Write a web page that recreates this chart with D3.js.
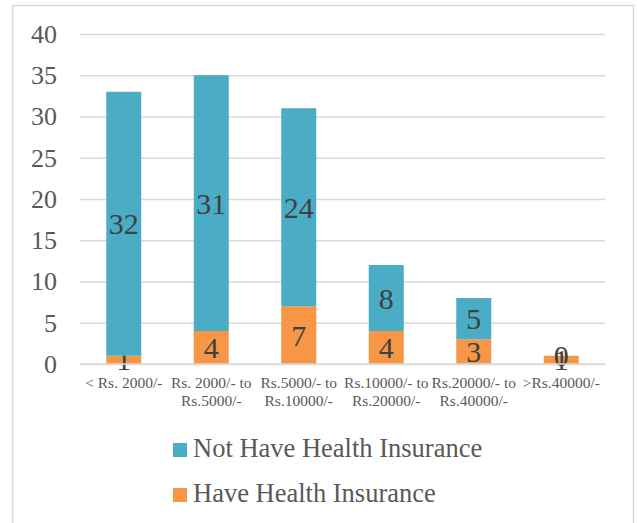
<!DOCTYPE html>
<html>
<head>
<meta charset="utf-8">
<script src="https://cdn.jsdelivr.net/npm/d3@7"></script>
<style>
  body { margin: 0; background: #fff; }
  svg { display: block; font-family: "Liberation Serif", "Times New Roman", serif; }
</style>
</head>
<body>
<svg id="chart" width="637" height="523"></svg>
<script>
const categories = [
  "< Rs. 2000/-",
  "Rs. 2000/- to Rs.5000/-",
  "Rs.5000/- to Rs.10000/-",
  "Rs.10000/- to Rs.20000/-",
  "Rs.20000/- to Rs.40000/-",
  ">Rs.40000/-"
];
const haveInsurance = [1, 4, 7, 4, 3, 1];
const notHaveInsurance = [32, 31, 24, 8, 5, 0];
const yTicks = [0, 5, 10, 15, 20, 25, 30, 35, 40];
const seriesNames = ["Have Health Insurance", "Not Have Health Insurance"];
const seriesColors = ["#F79646", "#4BACC6"];

const serif = '"Liberation Serif", "Times New Roman", serif';
const svg = d3.select('#chart');
const margin = {top: 34, left: 80, right: 32, bottom: 159};
const width = 637, height = 523;
const innerW = width - margin.left - margin.right;
const innerH = height - margin.top - margin.bottom;

// outer frame
svg.append('rect')
  .attr('x', 12.5).attr('y', 5.5)
  .attr('width', 621).attr('height', 530)
  .attr('fill', 'none')
  .attr('stroke', '#d9d9d9')
  .attr('stroke-width', 1.5);

const rows = categories.map((c, i) => ({cat: c, have: haveInsurance[i], notHave: notHaveInsurance[i]}));
const stack = d3.stack().keys(['have', 'notHave'])(rows);

const x = d3.scaleBand().domain(categories).range([0, innerW]).paddingInner(0.6).paddingOuter(0.3);
const y = d3.scaleLinear().domain([0, 40]).range([innerH, 0]);

const g = svg.append('g').attr('transform', `translate(${margin.left},${margin.top})`);

// gridlines + y labels
const yAxisG = g.append('g')
  .call(d3.axisLeft(y).tickValues(yTicks).tickSize(-innerW).tickPadding(23))
  .attr('font-family', serif);
yAxisG.select('.domain').remove();
yAxisG.selectAll('.tick line').attr('stroke', '#d9d9d9').attr('stroke-width', 1.3);
yAxisG.selectAll('.tick text')
  .attr('fill', '#595959')
  .style('font-size', '26px')
  .style('font-family', serif);

// bars
const layers = g.selectAll('g.layer').data(stack)
  .join('g')
  .attr('class', 'layer')
  .attr('fill', (d, i) => seriesColors[i]);

layers.selectAll('rect').data(d => d)
  .join('rect')
  .attr('x', d => x(d.data.cat))
  .attr('y', d => y(d[1]))
  .attr('width', x.bandwidth())
  .attr('height', d => y(d[0]) - y(d[1]));

// data labels
layers.selectAll('text').data(d => d)
  .join('text')
  .attr('x', d => x(d.data.cat) + x.bandwidth() / 2)
  .attr('y', d => y((d[0] + d[1]) / 2))
  .attr('dy', '0.35em')
  .attr('text-anchor', 'middle')
  .attr('fill', '#404040')
  .style('font-size', '30px')
  .style('font-family', serif)
  .text(d => d[1] - d[0]);

// baseline
g.append('line')
  .attr('x1', 0).attr('x2', innerW)
  .attr('y1', innerH).attr('y2', innerH)
  .attr('stroke', '#d9d9d9').attr('stroke-width', 1.3);

// x labels, wrapped after " to"
const xAxisG = g.append('g').attr('transform', `translate(0,${innerH})`);
xAxisG.selectAll('text').data(categories)
  .join('text')
  .attr('x', d => x(d) + x.bandwidth() / 2)
  .attr('y', 24)
  .attr('text-anchor', 'middle')
  .attr('fill', '#595959')
  .style('font-size', '15.5px')
  .style('font-family', serif)
  .each(function(d) {
    const k = d.indexOf(' to ');
    const parts = k >= 0 ? [d.slice(0, k + 3), d.slice(k + 4)] : [d];
    d3.select(this).selectAll('tspan').data(parts)
      .join('tspan')
      .attr('x', x(d) + x.bandwidth() / 2)
      .attr('dy', (_, i) => i === 0 ? 0 : 17.5)
      .text(s => s);
  });

// legend
const legend = svg.append('g').attr('transform', 'translate(173,0)');
const legendItems = [
  {name: seriesNames[1], color: seriesColors[1], y: 457},
  {name: seriesNames[0], color: seriesColors[0], y: 502}
];
const li = legend.selectAll('g').data(legendItems).join('g');
li.append('rect')
  .attr('x', 0).attr('y', d => d.y - 14)
  .attr('width', 14).attr('height', 14)
  .attr('fill', d => d.color);
li.append('text')
  .attr('x', 20).attr('y', d => d.y)
  .attr('fill', '#595959')
  .style('font-size', '26.5px')
  .style('font-family', serif)
  .text(d => d.name);
</script>
</body>
</html>
